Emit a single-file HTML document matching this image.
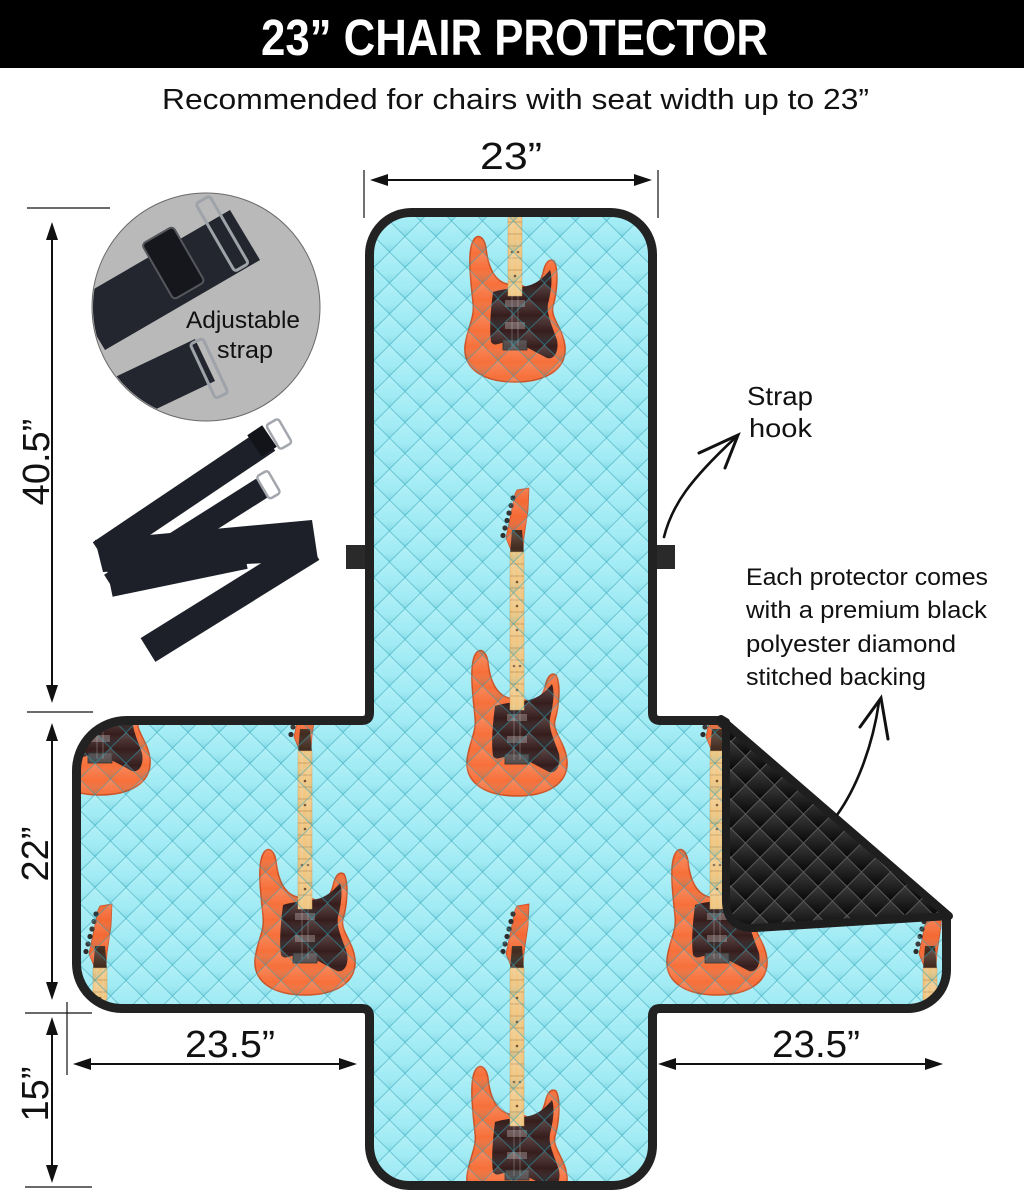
<!DOCTYPE html>
<html><head><meta charset="utf-8"><style>
html,body{margin:0;padding:0;background:#fff;}
svg{display:block;}
text{font-family:"Liberation Sans",sans-serif;}
</style></head><body>
<svg width="1024" height="1200" viewBox="0 0 1024 1200" xmlns="http://www.w3.org/2000/svg">
<defs>
  <linearGradient id="gq" x1="0" y1="0" x2="0" y2="1">
    <stop offset="0" stop-color="#ffffff" stop-opacity="0.22"/>
    <stop offset="0.55" stop-color="#ffffff" stop-opacity="0.04"/>
    <stop offset="1" stop-color="#1290a8" stop-opacity="0.22"/>
  </linearGradient>
  <linearGradient id="gd" x1="0" y1="0" x2="0" y2="1">
    <stop offset="0" stop-color="#3a3a3a"/>
    <stop offset="1" stop-color="#070707"/>
  </linearGradient>
  <pattern id="qb" width="31" height="31" patternUnits="userSpaceOnUse" x="2" y="4">
    <g fill="url(#gq)" stroke="#2a9fb5" stroke-opacity="0.35" stroke-width="0.8">
      <polygon points="15.5,0 31,15.5 15.5,31 0,15.5"/>
      <polygon points="0,-15.5 15.5,0 0,15.5 -15.5,0"/>
      <polygon points="31,-15.5 46.5,0 31,15.5 15.5,0"/>
      <polygon points="0,15.5 15.5,31 0,46.5 -15.5,31"/>
      <polygon points="31,15.5 46.5,31 31,46.5 15.5,31"/>
    </g>
  </pattern>
  <pattern id="qd" width="29" height="29" patternUnits="userSpaceOnUse" x="6" y="2">
    <rect width="29" height="29" fill="#111"/>
    <g fill="url(#gd)" stroke="#5c5c5c" stroke-width="0.8">
      <polygon points="14.5,0 29,14.5 14.5,29 0,14.5"/>
      <polygon points="0,-14.5 14.5,0 0,14.5 -14.5,0"/>
      <polygon points="29,-14.5 43.5,0 29,14.5 14.5,0"/>
      <polygon points="0,14.5 14.5,29 0,43.5 -14.5,29"/>
      <polygon points="29,14.5 43.5,29 29,43.5 14.5,29"/>
    </g>
  </pattern>
  <path id="shape" d="M 369.5,254.5 A 42,42 0 0 1 411.5,212.5 L 610.5,212.5 A 42,42 0 0 1 652.5,254.5 L 652.5,713 Q 652.5,720.5 660,720.5 L 719,720.5 L 946.5,916 L 946.5,970 A 38.5,38.5 0 0 1 908,1008.5 L 660,1008.5 Q 652.5,1008.5 652.5,1016 L 652.5,1145.5 A 40,40 0 0 1 612.5,1185.5 L 409.5,1185.5 A 40,40 0 0 1 369.5,1145.5 L 369.5,1016 Q 369.5,1008.5 362,1008.5 L 121.5,1008.5 A 45,45 0 0 1 76.5,963.5 L 76.5,770.5 A 50,50 0 0 1 126.5,720.5 L 362,720.5 Q 369.5,720.5 369.5,713 Z"/>
  <clipPath id="clipShape"><use href="#shape"/></clipPath>
  <clipPath id="clipCircle"><circle cx="206" cy="307" r="113"/></clipPath>
  <g id="gt">
    <path d="M 8,208 C 15,212 24,210 28,195 C 30,185 34,180 39,183 C 44,192 42,215 38,228 C 35,240 48,250 50,268 C 52,292 30,304 0,304 C -30,304 -52,292 -50,268 C -48,250 -40,240 -42,225 C -44,205 -48,175 -42,163 C -38,155 -31,158 -29,170 C -27,190 -20,203 -8,206 Z" fill="#f66a32" stroke="#c8481a" stroke-width="1.5"/>
    <path d="M -22,214 C -10,210 4,210 12,208 C 22,206 30,198 35,192 C 38,200 36,214 33,226 C 31,236 38,250 42,262 C 44,272 40,282 32,280 C 20,274 8,266 -4,264 C -14,263 -20,270 -24,264 C -26,250 -24,230 -22,214 Z" fill="#2e1413"/>
    <polygon points="0,-2 12,-4 11,18 7,45 6,58 -6,58 -11,46 -2,2" fill="#f4632b" stroke="#c2471c" stroke-width="0.8"/>
    <polygon points="-5,38 5,38 7,62 -7,62" fill="#3a2215"/>
    <g fill="#222">
      <circle cx="-4" cy="6" r="2.6"/><circle cx="-6" cy="13.5" r="2.6"/><circle cx="-8" cy="21" r="2.6"/>
      <circle cx="-10" cy="28.5" r="2.6"/><circle cx="-12" cy="36" r="2.6"/><circle cx="-14" cy="43.5" r="2.6"/>
    </g>
    <rect x="-7" y="60" width="14" height="158" fill="#f1c47a" stroke="#c99a5a" stroke-width="0.5"/>
    <path d="M -7,72 h14 M -7,84 h14 M -7,96 h14 M -7,108 h14 M -7,120 h14 M -7,132 h14 M -7,144 h14 M -7,156 h14 M -7,168 h14 M -7,180 h14 M -7,192 h14 M -7,204 h14" stroke="#b88c52" stroke-width="0.8"/>
    <g fill="#6b4a2a">
      <circle cx="0" cy="90" r="1.3"/><circle cx="0" cy="114" r="1.3"/><circle cx="0" cy="138" r="1.3"/>
      <circle cx="-3" cy="174" r="1.3"/><circle cx="3" cy="174" r="1.3"/><circle cx="0" cy="198" r="1.3"/>
    </g>
    <rect x="-10" y="222" width="20" height="7" fill="#7a6868" opacity="0.7"/>
    <rect x="-10" y="244" width="20" height="7" fill="#7a6868" opacity="0.7"/>
    <rect x="-12" y="262" width="24" height="10" fill="#4b4242" stroke="#222" stroke-width="0.8"/>
    <path d="M -3,60 V 268 M 3,60 V 268" stroke="#dddddd" stroke-opacity="0.5" stroke-width="0.6"/>
  </g>
</defs>

<!-- header -->
<rect x="0" y="0" width="1024" height="68" fill="#000"/>
<text x="261" y="55" font-size="51" font-weight="bold" fill="#fff" textLength="507" lengthAdjust="spacingAndGlyphs">23” CHAIR PROTECTOR</text>
<text x="162" y="109" font-size="29" fill="#111" textLength="707" lengthAdjust="spacingAndGlyphs">Recommended for chairs with seat width up to 23”</text>

<!-- main shape -->
<use href="#shape" fill="#9eebf4"/>
<g clip-path="url(#clipShape)">
  <use href="#gt" transform="translate(515,78)"/>
  <use href="#gt" transform="translate(517,492)"/>
  <use href="#gt" transform="translate(305,691)"/>
  <use href="#gt" transform="translate(717,691)"/>
  <use href="#gt" transform="translate(517,908)"/>
  <use href="#gt" transform="translate(100,491)"/>
  <use href="#gt" transform="translate(100,908)"/>
  <use href="#gt" transform="translate(930,908)"/>
  <rect x="0" y="200" width="1024" height="1000" fill="url(#qb)"/>
</g>
<use href="#shape" fill="none" stroke="#222" stroke-width="9" stroke-linejoin="round"/>

<!-- folded flap -->
<path d="M 721,719 L 949,916 L 755,928 Q 726,929 726,900 L 726,722 Z" fill="url(#qd)" stroke="#1e1e1e" stroke-width="8" stroke-linejoin="round"/>

<!-- strap hooks -->
<rect x="346" y="545" width="19" height="24" fill="#2a2a2a"/>
<rect x="657" y="545" width="18" height="24" fill="#2a2a2a"/>

<!-- dimensions -->
<g stroke="#111" fill="none">
  <line x1="364" y1="170" x2="364" y2="218" stroke-width="1.2"/>
  <line x1="658" y1="170" x2="658" y2="218" stroke-width="1.2"/>
  <line x1="380" y1="180" x2="642" y2="180" stroke-width="2"/>
  <line x1="27" y1="208" x2="110" y2="208" stroke-width="1.2"/>
  <line x1="27" y1="712" x2="93" y2="712" stroke-width="1.2"/>
  <line x1="25" y1="1013" x2="92" y2="1013" stroke-width="1.2"/>
  <line x1="25" y1="1187" x2="92" y2="1187" stroke-width="1.2"/>
  <line x1="67" y1="1002" x2="67" y2="1075" stroke-width="1.2"/>
  <line x1="52" y1="235" x2="52" y2="690" stroke-width="2"/>
  <line x1="52" y1="735" x2="52" y2="988" stroke-width="2"/>
  <line x1="52" y1="1030" x2="52" y2="1170" stroke-width="2"/>
  <line x1="85" y1="1064" x2="345" y2="1064" stroke-width="2"/>
  <line x1="670" y1="1064" x2="931" y2="1064" stroke-width="2"/>
</g>
<g fill="#111">
  <polygon points="370,180 388,174 388,186"/>
  <polygon points="652,180 634,174 634,186"/>
  <polygon points="52,222 46,240 58,240"/>
  <polygon points="52,703 46,685 58,685"/>
  <polygon points="52,723 46,741 58,741"/>
  <polygon points="52,1000 46,982 58,982"/>
  <polygon points="52,1017 46,1035 58,1035"/>
  <polygon points="52,1183 46,1165 58,1165"/>
  <polygon points="73,1064 91,1058 91,1070"/>
  <polygon points="357,1064 339,1058 339,1070"/>
  <polygon points="658,1064 676,1058 676,1070"/>
  <polygon points="943,1064 925,1058 925,1070"/>
</g>
<g fill="#111" font-size="38">
  <text x="480" y="169" textLength="62" lengthAdjust="spacingAndGlyphs">23”</text>
  <text x="185" y="1057" textLength="90" lengthAdjust="spacingAndGlyphs">23.5”</text>
  <text x="772" y="1057" textLength="88" lengthAdjust="spacingAndGlyphs">23.5”</text>
  <text transform="translate(49,462) rotate(-90)" text-anchor="middle">40.5”</text>
  <text transform="translate(48,854) rotate(-90)" text-anchor="middle">22”</text>
  <text transform="translate(48,1094) rotate(-90)" text-anchor="middle">15”</text>
</g>

<!-- strap circle -->
<circle cx="206" cy="307" r="114" fill="#b9b9b9" stroke="#6a6a6a" stroke-width="1"/>
<g clip-path="url(#clipCircle)">
  <polygon points="75,300 230,210 260,260 105,350" fill="#23262e"/>
  <g transform="rotate(-30 175 262)">
    <rect x="155" y="230" width="36" height="64" rx="4" fill="#15171c" stroke="#55575c" stroke-width="2"/>
    <rect x="222" y="222" width="16" height="78" rx="3" fill="none" stroke="#9ea3aa" stroke-width="3"/>
  </g>
  <polygon points="90,389 195,339 215,381 110,431" fill="#23262e"/>
  <g transform="rotate(-25 210 368)">
    <rect x="202" y="338" width="14" height="60" rx="3" fill="none" stroke="#9ea3aa" stroke-width="3"/>
  </g>
</g>
<text x="186" y="328" font-size="24" fill="#111" textLength="114" lengthAdjust="spacingAndGlyphs">Adjustable</text>
<text x="217" y="358" font-size="24" fill="#111" textLength="56" lengthAdjust="spacingAndGlyphs">strap</text>

<!-- loose straps -->
<g stroke="#1d2029" fill="none" stroke-linecap="butt">
  <line x1="268" y1="440" x2="100" y2="553" stroke-width="26"/>
  <line x1="262" y1="488" x2="110" y2="584" stroke-width="22"/>
  <line x1="110" y1="584" x2="245" y2="556" stroke-width="26"/>
  <line x1="312" y1="548" x2="148" y2="650" stroke-width="28"/>
</g>
<polygon points="95,540 312,520 318,560 103,572" fill="#1d2029"/>
<g fill="none" stroke="#a3a7ad" stroke-width="2.5">
  <rect x="272" y="420" width="14" height="28" rx="3" transform="rotate(-30 279 434)"/>
  <rect x="262" y="472" width="13" height="26" rx="3" transform="rotate(-30 268 485)"/>
</g>
<rect x="253" y="428" width="18" height="26" fill="#121419" transform="rotate(-34 262 441)"/>

<!-- annotations -->
<text x="747" y="405" font-size="26" fill="#111" textLength="66" lengthAdjust="spacingAndGlyphs">Strap</text>
<text x="749" y="437" font-size="26" fill="#111" textLength="63" lengthAdjust="spacingAndGlyphs">hook</text>
<path d="M 664,537 C 672,505 690,480 735,438" fill="none" stroke="#111" stroke-width="2.6" stroke-linecap="round"/>
<path d="M 699,453 L 738,435 L 725,468" fill="none" stroke="#111" stroke-width="3" stroke-linecap="round" stroke-linejoin="miter"/>

<g font-size="24.5" fill="#111">
  <text x="746" y="585" textLength="242" lengthAdjust="spacingAndGlyphs">Each protector comes</text>
  <text x="746" y="618" textLength="241" lengthAdjust="spacingAndGlyphs">with a premium black</text>
  <text x="746" y="652" textLength="210" lengthAdjust="spacingAndGlyphs">polyester diamond</text>
  <text x="746" y="685" textLength="180" lengthAdjust="spacingAndGlyphs">stitched backing</text>
</g>
<path d="M 837,815 C 855,790 872,750 879,702" fill="none" stroke="#111" stroke-width="2.6" stroke-linecap="round"/>
<path d="M 860,727 L 881,698 L 888,739" fill="none" stroke="#111" stroke-width="3" stroke-linecap="round"/>
</svg>
</body></html>
